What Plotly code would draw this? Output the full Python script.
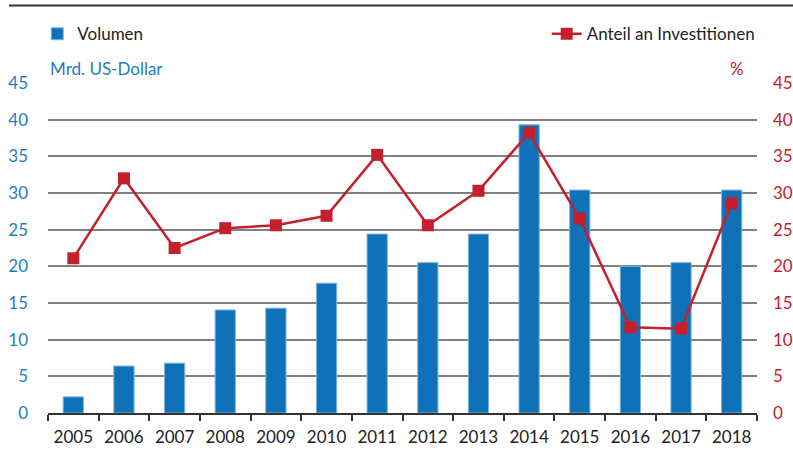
import plotly.graph_objects as go

# 数据
years = ["2005", "2006", "2007", "2008", "2009", "2010", "2011",
         "2012", "2013", "2014", "2015", "2016", "2017", "2018"]
volumen = [2.2, 6.4, 6.8, 14.05, 14.3, 17.7, 24.4,
           20.5, 24.4, 39.3, 30.4, 20.0, 20.5, 30.4]
anteil = [21.1, 32.0, 22.5, 25.2, 25.6, 26.9, 35.2,
          25.6, 30.3, 38.2, 26.5, 11.7, 11.5, 28.6]
ticks = [0, 5, 10, 15, 20, 25, 30, 35, 40, 45]

BLUE = "#0f71b7"
RED = "#c3202b"
FONT = "Lato"

fig = go.Figure()

fig.add_trace(go.Bar(
    x=years, y=volumen, name="Volumen",
    marker=dict(color=BLUE, line=dict(color="#7fb4de", width=1)),
    legend="legend", showlegend=True,
))

fig.add_trace(go.Scatter(
    x=years, y=anteil, name="Anteil an Investitionen",
    mode="lines+markers", yaxis="y2",
    line=dict(color=RED, width=2.5),
    marker=dict(symbol="square", size=12, color=RED),
    legend="legend2", showlegend=True,
))

fig.update_layout(
    width=793, height=450,
    margin=dict(l=48, r=36, t=83, b=37, autoexpand=False),
    paper_bgcolor="white", plot_bgcolor="white",
    font=dict(family=FONT, size=17, color="#222"),
    showlegend=True,
    bargap=0.6,
    xaxis=dict(
        type="category", range=[-0.5, 13.5], showgrid=False, automargin=False,
        showline=True, linecolor="#333", linewidth=2,
        ticks="outside", tickson="boundaries", ticklen=6,
        tickcolor="#333", tickwidth=1.5, tickangle=0,
        tickfont=dict(color="#222", size=17),
        ticklabelstandoff=8,
    ),
    yaxis=dict(
        range=[0, 45], tickvals=ticks, showgrid=True, automargin=False,
        gridcolor="#808080", gridwidth=1.5, zeroline=False,
        tickfont=dict(color="#1f7dc1", size=17),
        ticklabelstandoff=19,
    ),
    yaxis2=dict(
        range=[0, 45], tickvals=ticks, overlaying="y", side="right",
        showgrid=False, zeroline=False, automargin=False,
        tickfont=dict(color=RED, size=17),
        ticklabelstandoff=15,
    ),
    legend=dict(
        x=0.047, y=0.924, xanchor="left", yanchor="middle",
        xref="container", yref="container", orientation="h",
        font=dict(size=17, color="#222"), itemwidth=30,
        bgcolor="rgba(0,0,0,0)",
    ),
    legend2=dict(
        x=0.958, y=0.924, xanchor="right", yanchor="middle",
        xref="container", yref="container", orientation="h",
        font=dict(size=17, color="#222"), itemwidth=30,
        bgcolor="rgba(0,0,0,0)",
    ),
    annotations=[
        dict(text="Mrd. US-Dollar", x=0, y=1.005, xref="paper", yref="paper",
             xanchor="left", yanchor="bottom", showarrow=False,
             font=dict(color="#1f7dc1", size=17)),
        dict(text="%", x=0.985, y=1.005, xref="paper", yref="paper",
             xanchor="right", yanchor="bottom", showarrow=False,
             font=dict(color=RED, size=17)),
    ],
    shapes=[
        dict(type="line", xref="paper", yref="paper",
             x0=-0.055, x1=1.06, y0=1.235, y1=1.235,
             line=dict(color="#333", width=2)),
    ],
)

fig.write_html("out.html", config={"displayModeBar": False},
               post_script="document.body.style.margin='0';")
